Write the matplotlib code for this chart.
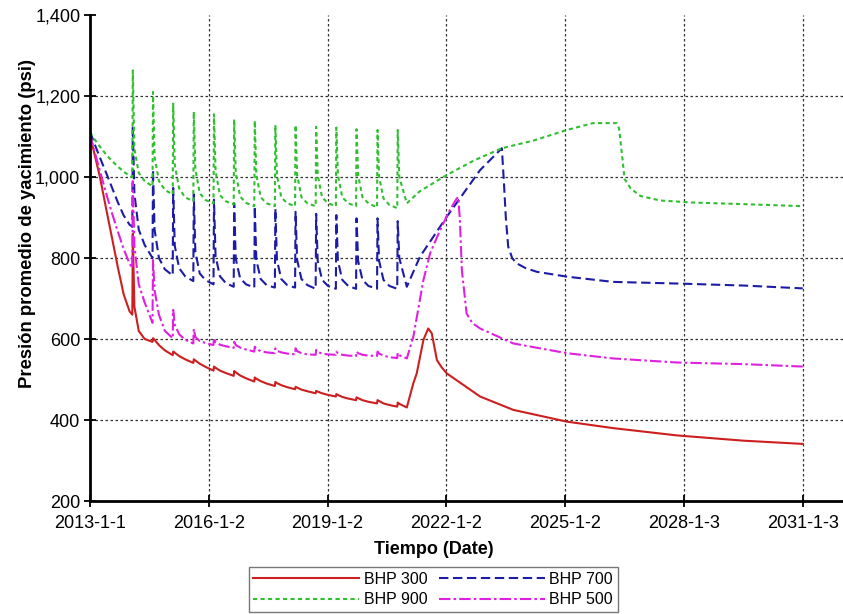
import matplotlib
matplotlib.use("Agg")
import matplotlib.pyplot as plt
from matplotlib.ticker import FuncFormatter

plt.rcParams['font.family'] = ['Liberation Sans', 'DejaVu Sans']

# time axis in decimal years
t_lead = [2013.00, 2013.10, 2013.25, 2013.40, 2013.55, 2013.70, 2013.85, 2014.00]

# well cycles: before spike, spike, fast fall, knee, slow decline
t_cycles = [
    2014.068, 2014.080, 2014.120, 2014.230, 2014.380,
    2014.578, 2014.590, 2014.630, 2014.740, 2014.890,
    2015.088, 2015.100, 2015.140, 2015.250, 2015.400,
    2015.608, 2015.620, 2015.660, 2015.770, 2015.920,
    2016.118, 2016.130, 2016.170, 2016.280, 2016.430,
    2016.628, 2016.640, 2016.680, 2016.790, 2016.940,
    2017.148, 2017.160, 2017.200, 2017.310, 2017.460,
    2017.668, 2017.680, 2017.720, 2017.830, 2017.980,
    2018.178, 2018.190, 2018.230, 2018.340, 2018.490,
    2018.698, 2018.710, 2018.750, 2018.860, 2019.010,
    2019.208, 2019.220, 2019.260, 2019.370, 2019.520,
    2019.718, 2019.730, 2019.770, 2019.880, 2020.030,
    2020.248, 2020.260, 2020.300, 2020.410, 2020.560,
    2020.758, 2020.770, 2020.810,
]

# BHP 300
red_lead = [1100, 1062, 1000, 925, 852, 778, 710, 668]
red_cycles = [
    660, 860, 680, 620, 600,
    593, 602, 598, 585, 572,
    560, 569, 566, 558, 550,
    541, 550, 547, 539, 531,
    522, 532, 529, 522, 516,
    509, 521, 518, 510, 503,
    495, 505, 502, 496, 490,
    484, 494, 491, 486, 481,
    476, 482, 480, 475, 471,
    466, 472, 470, 466, 462,
    458, 464, 462, 457, 453,
    449, 456, 454, 449, 445,
    441, 449, 447, 441, 437,
    433, 443, 440,
]
red_tail_t = [2021.00, 2021.165, 2021.25, 2021.42, 2021.54, 2021.63, 2021.76, 2021.88,
              2022.01, 2022.85, 2023.69, 2025.04, 2026.21, 2027.82, 2029.50, 2031.00]
red_tail = [431, 491, 515, 598, 626, 614, 548, 530, 515, 458, 425, 396, 380, 362, 349, 341]

# BHP 700
blue_lead = [1112, 1085, 1048, 1012, 975, 938, 905, 882]
blue_cycles = [
    877, 1128, 960, 870, 832,
    800, 1018, 870, 800, 772,
    757, 973, 830, 775, 755,
    743, 957, 815, 762, 745,
    735, 944, 805, 755, 738,
    729, 935, 798, 750, 735,
    727, 928, 795, 748, 733,
    727, 922, 795, 748, 733,
    727, 914, 795, 748, 733,
    724, 909, 793, 746, 731,
    724, 906, 793, 746, 731,
    724, 898, 793, 746, 731,
    724, 898, 793, 746, 731,
    724, 891, 800,
]
blue_tail_t = [2021.00, 2021.33, 2022.01, 2022.85, 2023.40, 2023.45, 2023.50, 2023.56, 2023.66,
               2023.77, 2024.00, 2024.28, 2025.04, 2026.21, 2027.82, 2029.50, 2031.00]
blue_tail = [729, 803, 902, 1017, 1071, 990, 900, 828, 800, 787, 775, 766, 754, 741, 737, 732, 725]

# BHP 900
green_lead = [1110, 1095, 1075, 1056, 1040, 1026, 1013, 1003]
green_cycles = [
    1000, 1263, 1070, 1010, 990,
    977, 1210, 1050, 990, 968,
    957, 1181, 1030, 972, 950,
    940, 1161, 1020, 960, 943,
    935, 1155, 1015, 955, 940,
    932, 1142, 1010, 952, 936,
    928, 1139, 1005, 950, 935,
    928, 1128, 1005, 950, 935,
    928, 1128, 1005, 950, 935,
    928, 1124, 1005, 950, 935,
    928, 1122, 1005, 950, 935,
    928, 1118, 1005, 950, 935,
    925, 1116, 1000, 947, 931,
    923, 1116, 1000,
]
green_tail_t = [2021.00, 2021.33, 2021.67, 2022.01, 2022.70, 2023.40, 2024.20, 2025.04, 2025.70,
                2026.30, 2026.36, 2026.44, 2026.50, 2026.65, 2026.90, 2027.40, 2028.20, 2029.50,
                2031.00]
green_tail = [935, 965, 985, 1005, 1041, 1071, 1090, 1116, 1133, 1133, 1120, 1050, 995, 972,
              953, 942, 937, 933, 928]

# BHP 500
mag_lead = [1105, 1068, 1015, 962, 912, 866, 822, 786]
mag_cycles = [
    775, 990, 830, 735, 690,
    640, 795, 720, 660, 620,
    602, 672, 635, 612, 598,
    589, 625, 605, 595, 590,
    585, 602, 592, 586, 582,
    578, 593, 585, 579, 574,
    569, 581, 575, 570, 567,
    565, 577, 571, 567, 564,
    562, 577, 570, 565, 562,
    561, 573, 568, 564, 562,
    561, 569, 565, 561, 559,
    558, 569, 565, 561, 559,
    558, 569, 564, 559, 555,
    553, 566, 560,
]
mag_tail_t = [2021.00, 2021.165, 2021.42, 2021.59, 2021.84, 2022.09, 2022.26, 2022.30, 2022.34,
              2022.39, 2022.51, 2022.65, 2022.85, 2023.69, 2025.04, 2026.21, 2027.82, 2029.50,
              2031.00]
mag_tail = [552, 606, 746, 812, 869, 919, 947, 950, 894, 770, 663, 640, 626, 589, 565, 552,
            542, 538, 532]

tick_years = [2013, 2016, 2019, 2022, 2025, 2028, 2031]
tick_labels = ['2013-1-1', '2016-1-2', '2019-1-2', '2022-1-2', '2025-1-2', '2028-1-3', '2031-1-3']

t_early = t_lead + t_cycles

fig = plt.figure(figsize=(8.43, 6.14), dpi=100)
ax = fig.add_axes([0.1068, 0.184, 0.8932, 0.7916])

l300, = ax.plot(t_early + red_tail_t, red_lead + red_cycles + red_tail,
                color='#cc1f1f', lw=1.5, ls='-', label='BHP 300')
l700, = ax.plot(t_early + blue_tail_t, blue_lead + blue_cycles + blue_tail,
                color='#1c1ca6', lw=1.5, ls=(0, (4.5, 2.2)), label='BHP 700')
l900, = ax.plot(t_early + green_tail_t, green_lead + green_cycles + green_tail,
                color='#2fbf2f', lw=1.5, ls=(0, (2, 1.6)), label='BHP 900')
l500, = ax.plot(t_early + mag_tail_t, mag_lead + mag_cycles + mag_tail,
                color='#e020e0', lw=1.5, ls=(0, (5.5, 1.5, 1.2, 1.5)), label='BHP 500')

ax.set_xlim(2013, 2032.015)
ax.set_ylim(200, 1400)
ax.set_xticks(tick_years)
ax.set_xticklabels(tick_labels)
ax.set_yticks([200, 400, 600, 800, 1000, 1200, 1400])
ax.yaxis.set_major_formatter(FuncFormatter(lambda v, p: '{:,.0f}'.format(v)))

ax.grid(True, color='#333333', lw=0.9, ls=(0, (2, 2)))
ax.yaxis.get_gridlines()[-1].set_visible(False)
ax.xaxis.get_gridlines()[0].set_visible(False)

for side in ['top', 'right']:
    ax.spines[side].set_visible(False)
for side in ['left', 'bottom']:
    ax.spines[side].set_linewidth(2)
ax.tick_params(axis='both', direction='inout', length=8, width=1.3, labelsize=13)
ax.tick_params(axis='x', pad=6)
ax.tick_params(axis='y', pad=3)

ax.set_xlabel('Tiempo (Date)', fontsize=13, fontweight='bold')
ax.set_ylabel('Presión promedio de yacimiento (psi)', fontsize=13.3, fontweight='bold')
ax.xaxis.set_label_coords(0.456, -0.082)
ax.yaxis.set_label_coords(-0.072, 0.572)

leg = fig.legend(handles=[l300, l900, l700, l500], ncol=2, loc='upper center',
                 bbox_to_anchor=(0.514, 0.077), fontsize=11.5, frameon=True, fancybox=False,
                 handlelength=6.6, handletextpad=0.3, columnspacing=0.75,
                 labelspacing=0.35, borderpad=0.3, borderaxespad=0)
leg.get_frame().set_edgecolor('#555555')
leg.get_frame().set_linewidth(1.0)

fig.savefig('out.png', dpi=100)
